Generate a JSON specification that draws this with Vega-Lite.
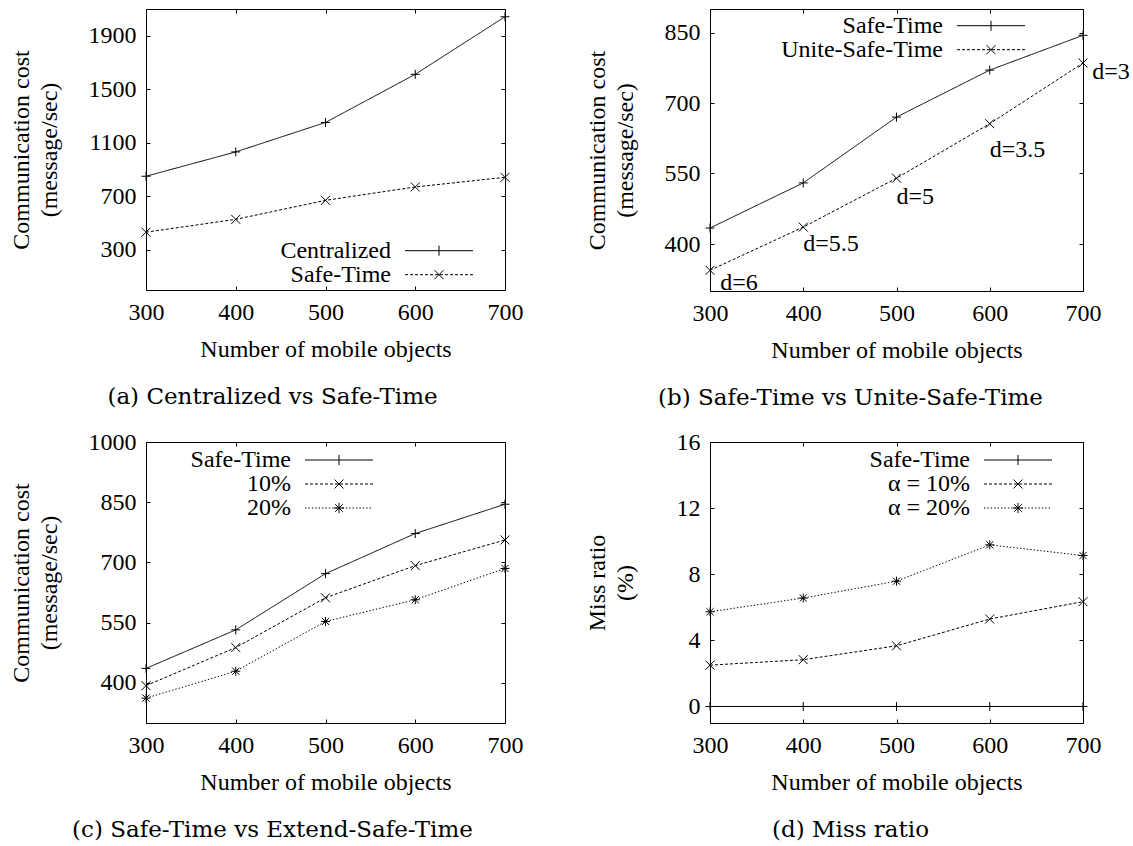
{
  "$schema": "https://vega.github.io/schema/vega-lite/v6.json",
  "background": "white",
  "padding": {"left": 8, "top": 8, "right": 0, "bottom": 0},
  "spacing": 18,
  "resolve": {"scale": {"shape": "independent", "strokeDash": "independent"}, "legend": {"shape": "independent", "strokeDash": "independent"}},
  "vconcat": [
    {
      "spacing": 60,
      "resolve": {"scale": {"shape": "independent", "strokeDash": "independent"}, "legend": {"shape": "independent", "strokeDash": "independent"}},
      "hconcat": [
        {
          "width": 359, "height": 281,
          "title": {"text": "(a) Centralized vs Safe-Time", "dx": -53},
          "data": {"values": [
            {"n": 300, "series": "Centralized", "v": 850},
            {"n": 400, "series": "Centralized", "v": 1032},
            {"n": 500, "series": "Centralized", "v": 1252},
            {"n": 600, "series": "Centralized", "v": 1612},
            {"n": 700, "series": "Centralized", "v": 2042},
            {"n": 300, "series": "Safe-Time", "v": 432},
            {"n": 400, "series": "Safe-Time", "v": 528},
            {"n": 500, "series": "Safe-Time", "v": 670},
            {"n": 600, "series": "Safe-Time", "v": 770},
            {"n": 700, "series": "Safe-Time", "v": 842}
          ]},
          "layer": [
            {"mark": {"type": "line", "color": "black", "strokeWidth": 1},
             "encoding": {
               "x": {"field": "n", "type": "quantitative", "scale": {"domain": [300, 700], "nice": false, "zero": false}, "axis": {"values": [300, 400, 500, 600, 700], "title": "Number of mobile objects", "format": "d"}},
               "y": {"field": "v", "type": "quantitative", "scale": {"domain": [0, 2100], "nice": false, "zero": false}, "axis": {"values": [300, 700, 1100, 1500, 1900], "title": ["Communication cost", "(message/sec)"], "format": "d"}},
               "strokeDash": {"field": "series", "type": "nominal", "scale": {"domain": ["Safe-Time", "Centralized"], "range": [[3, 2], [1, 0]]}, "legend": null}
             }},
            {"mark": {"type": "point", "filled": false, "color": "black", "strokeWidth": 1, "size": 81, "opacity": 1},
             "encoding": {
               "x": {"field": "n", "type": "quantitative", "axis": null},
               "y": {"field": "v", "type": "quantitative", "axis": null},
               "shape": {"field": "series", "type": "nominal", "scale": {"domain": ["Safe-Time", "Centralized"], "range": ["M-1,-1L1,1M-1,1L1,-1", "M-1,0H1M0,-1V1"]}, "legend": null}
             }},
            {"transform": [{"filter": "datum.n > 10000"}],
             "mark": {"type": "point", "filled": false, "color": "black", "strokeWidth": 1, "opacity": 1},
             "encoding": {
               "x": {"field": "n", "type": "quantitative", "axis": null},
               "y": {"field": "v", "type": "quantitative", "axis": null},
               "shape": {"field": "series", "type": "nominal", "scale": {"domain": ["Centralized", "Safe-Time"], "range": [
                 "M-3.4,0H3.4M0,-0.5V0.5",
                 "M-3.4,0H-3.1M-2.9,0H-2.6M-2.4,0H-2.1M-1.9,0H-1.6M-1.4,0H-1.1M-0.9,0H-0.6M-0.4,0H-0.1M0.1,0H0.4M0.6,0H0.9M1.1,0H1.4M1.6,0H1.9M2.1,0H2.4M2.6,0H2.9M3.1,0H3.4M-0.45,-0.45L0.45,0.45M-0.45,0.45L0.45,-0.45"]},
                 "legend": {"legendX": 259, "legendY": 229.7}}
             }},
            {"mark": {"type": "point", "opacity": 0},
             "encoding": {
               "x": {"field": "n", "type": "quantitative", "axis": {"orient": "top", "values": [300, 400, 500, 600, 700], "labels": false, "title": null}},
               "y": {"field": "v", "type": "quantitative", "axis": {"orient": "right", "values": [300, 700, 1100, 1500, 1900], "labels": false, "title": null}}
             }}
          ],
          "resolve": {"scale": {"shape": "independent"}, "legend": {"shape": "independent"}, "axis": {"x": "independent", "y": "independent"}}
        },
        {
          "width": 373, "height": 282,
          "title": {"text": "(b) Safe-Time vs Unite-Safe-Time", "dx": -46},
          "data": {"values": [
            {"n": 300, "series": "Safe-Time", "v": 434},
            {"n": 400, "series": "Safe-Time", "v": 530},
            {"n": 500, "series": "Safe-Time", "v": 670},
            {"n": 600, "series": "Safe-Time", "v": 770},
            {"n": 700, "series": "Safe-Time", "v": 844},
            {"n": 300, "series": "Unite-Safe-Time", "v": 344},
            {"n": 400, "series": "Unite-Safe-Time", "v": 436},
            {"n": 500, "series": "Unite-Safe-Time", "v": 540},
            {"n": 600, "series": "Unite-Safe-Time", "v": 656},
            {"n": 700, "series": "Unite-Safe-Time", "v": 785}
          ]},
          "layer": [
            {"mark": {"type": "line", "color": "black", "strokeWidth": 1},
             "encoding": {
               "x": {"field": "n", "type": "quantitative", "scale": {"domain": [300, 700], "nice": false, "zero": false}, "axis": {"values": [300, 400, 500, 600, 700], "title": "Number of mobile objects", "format": "d"}},
               "y": {"field": "v", "type": "quantitative", "scale": {"domain": [300, 900], "nice": false, "zero": false}, "axis": {"values": [400, 550, 700, 850], "title": ["Communication cost", "(message/sec)"], "format": "d"}},
               "strokeDash": {"field": "series", "type": "nominal", "scale": {"domain": ["Unite-Safe-Time", "Safe-Time"], "range": [[3, 2], [1, 0]]}, "legend": null}
             }},
            {"mark": {"type": "point", "filled": false, "color": "black", "strokeWidth": 1, "size": 81, "opacity": 1},
             "encoding": {
               "x": {"field": "n", "type": "quantitative", "axis": null},
               "y": {"field": "v", "type": "quantitative", "axis": null},
               "shape": {"field": "series", "type": "nominal", "scale": {"domain": ["Unite-Safe-Time", "Safe-Time"], "range": ["M-1,-1L1,1M-1,1L1,-1", "M-1,0H1M0,-1V1"]}, "legend": null}
             }},
            {"transform": [{"filter": "datum.n > 10000"}],
             "mark": {"type": "point", "filled": false, "color": "black", "strokeWidth": 1, "opacity": 1},
             "encoding": {
               "x": {"field": "n", "type": "quantitative", "axis": null},
               "y": {"field": "v", "type": "quantitative", "axis": null},
               "shape": {"field": "series", "type": "nominal", "scale": {"domain": ["Safe-Time", "Unite-Safe-Time"], "range": [
                 "M-3.4,0H3.4M0,-0.5V0.5",
                 "M-3.4,0H-3.1M-2.9,0H-2.6M-2.4,0H-2.1M-1.9,0H-1.6M-1.4,0H-1.1M-0.9,0H-0.6M-0.4,0H-0.1M0.1,0H0.4M0.6,0H0.9M1.1,0H1.4M1.6,0H1.9M2.1,0H2.4M2.6,0H2.9M3.1,0H3.4M-0.45,-0.45L0.45,0.45M-0.45,0.45L0.45,-0.45"]},
                 "legend": {"legendX": 247, "legendY": 4.7}}
             }},
            {"data": {"values": [
              {"lx": 311, "ly": 316, "label": "d=6"},
              {"lx": 400, "ly": 400, "label": "d=5.5"},
              {"lx": 500, "ly": 499, "label": "d=5"},
              {"lx": 600, "ly": 599, "label": "d=3.5"},
              {"lx": 710, "ly": 766, "label": "d=3"}
            ]},
             "mark": {"type": "text", "align": "left", "baseline": "middle", "font": "Liberation Serif", "fontSize": 24, "color": "black"},
             "encoding": {
               "x": {"field": "lx", "type": "quantitative", "axis": null},
               "y": {"field": "ly", "type": "quantitative", "axis": null},
               "text": {"field": "label", "type": "nominal"}
             }},
            {"mark": {"type": "point", "opacity": 0},
             "encoding": {
               "x": {"field": "n", "type": "quantitative", "axis": {"orient": "top", "values": [300, 400, 500, 600, 700], "labels": false, "title": null}},
               "y": {"field": "v", "type": "quantitative", "axis": {"orient": "right", "values": [400, 550, 700, 850], "labels": false, "title": null}}
             }}
          ],
          "resolve": {"scale": {"shape": "independent"}, "legend": {"shape": "independent"}, "axis": {"x": "independent", "y": "independent"}}
        }
      ]
    },
    {
      "spacing": 60,
      "resolve": {"scale": {"shape": "independent", "strokeDash": "independent"}, "legend": {"shape": "independent", "strokeDash": "independent"}},
      "hconcat": [
        {
          "width": 359, "height": 281,
          "title": {"text": "(c) Safe-Time vs Extend-Safe-Time", "dx": -53},
          "data": {"values": [
            {"n": 300, "series": "Safe-Time", "v": 436},
            {"n": 400, "series": "Safe-Time", "v": 532},
            {"n": 500, "series": "Safe-Time", "v": 672},
            {"n": 600, "series": "Safe-Time", "v": 772},
            {"n": 700, "series": "Safe-Time", "v": 845},
            {"n": 300, "series": "10%", "v": 393},
            {"n": 400, "series": "10%", "v": 488},
            {"n": 500, "series": "10%", "v": 612},
            {"n": 600, "series": "10%", "v": 692},
            {"n": 700, "series": "10%", "v": 756},
            {"n": 300, "series": "20%", "v": 362},
            {"n": 400, "series": "20%", "v": 429},
            {"n": 500, "series": "20%", "v": 553},
            {"n": 600, "series": "20%", "v": 607},
            {"n": 700, "series": "20%", "v": 685}
          ]},
          "layer": [
            {"mark": {"type": "line", "color": "black", "strokeWidth": 1},
             "encoding": {
               "x": {"field": "n", "type": "quantitative", "scale": {"domain": [300, 700], "nice": false, "zero": false}, "axis": {"values": [300, 400, 500, 600, 700], "title": "Number of mobile objects", "format": "d"}},
               "y": {"field": "v", "type": "quantitative", "scale": {"domain": [300, 1000], "nice": false, "zero": false}, "axis": {"values": [400, 550, 700, 850, 1000], "title": ["Communication cost", "(message/sec)"], "format": "d"}},
               "strokeDash": {"field": "series", "type": "nominal", "scale": {"domain": ["20%", "10%", "Safe-Time"], "range": [[1.4, 2], [3, 2], [1, 0]]}, "legend": null}
             }},
            {"mark": {"type": "point", "filled": false, "color": "black", "strokeWidth": 1, "size": 81, "opacity": 1},
             "encoding": {
               "x": {"field": "n", "type": "quantitative", "axis": null},
               "y": {"field": "v", "type": "quantitative", "axis": null},
               "shape": {"field": "series", "type": "nominal", "scale": {"domain": ["20%", "10%", "Safe-Time"], "range": ["M-1,0H1M0,-1V1M-0.8,-0.8L0.8,0.8M-0.8,0.8L0.8,-0.8", "M-1,-1L1,1M-1,1L1,-1", "M-1,0H1M0,-1V1"]}, "legend": null}
             }},
            {"transform": [{"filter": "datum.n > 10000"}],
             "mark": {"type": "point", "filled": false, "color": "black", "strokeWidth": 1, "opacity": 1},
             "encoding": {
               "x": {"field": "n", "type": "quantitative", "axis": null},
               "y": {"field": "v", "type": "quantitative", "axis": null},
               "shape": {"field": "series", "type": "nominal", "scale": {"domain": ["Safe-Time", "10%", "20%"], "range": [
                 "M-3.4,0H3.4M0,-0.5V0.5",
                 "M-3.4,0H-3.1M-2.9,0H-2.6M-2.4,0H-2.1M-1.9,0H-1.6M-1.4,0H-1.1M-0.9,0H-0.6M-0.4,0H-0.1M0.1,0H0.4M0.6,0H0.9M1.1,0H1.4M1.6,0H1.9M2.1,0H2.4M2.6,0H2.9M3.1,0H3.4M-0.45,-0.45L0.45,0.45M-0.45,0.45L0.45,-0.45",
                 "M-3.4,0H-3.26M-3.06,0H-2.92M-2.72,0H-2.58M-2.38,0H-2.24M-2.04,0H-1.9M-1.7,0H-1.56M-1.36,0H-1.22M-1.02,0H-0.88M-0.68,0H-0.54M-0.34,0H-0.2M0,0H0.14M0.34,0H0.48M0.68,0H0.82M1.02,0H1.16M1.36,0H1.5M1.7,0H1.84M2.04,0H2.18M2.38,0H2.52M2.72,0H2.86M3.06,0H3.2M-0.5,0H0.5M0,-0.5V0.5M-0.38,-0.38L0.38,0.38M-0.38,0.38L0.38,-0.38"]},
                 "legend": {"legendX": 159, "legendY": 6}}
             }},
            {"mark": {"type": "point", "opacity": 0},
             "encoding": {
               "x": {"field": "n", "type": "quantitative", "axis": {"orient": "top", "values": [300, 400, 500, 600, 700], "labels": false, "title": null}},
               "y": {"field": "v", "type": "quantitative", "axis": {"orient": "right", "values": [400, 550, 700, 850, 1000], "labels": false, "title": null}}
             }}
          ],
          "resolve": {"scale": {"shape": "independent"}, "legend": {"shape": "independent"}, "axis": {"x": "independent", "y": "independent"}}
        },
        {
          "width": 373, "height": 281,
          "title": {"text": "(d) Miss ratio", "dx": -46},
          "data": {"values": [
            {"n": 300, "series": "Safe-Time", "v": 0},
            {"n": 400, "series": "Safe-Time", "v": 0},
            {"n": 500, "series": "Safe-Time", "v": 0},
            {"n": 600, "series": "Safe-Time", "v": 0},
            {"n": 700, "series": "Safe-Time", "v": 0},
            {"n": 300, "series": "α = 10%", "v": 2.5},
            {"n": 400, "series": "α = 10%", "v": 2.83},
            {"n": 500, "series": "α = 10%", "v": 3.67},
            {"n": 600, "series": "α = 10%", "v": 5.29},
            {"n": 700, "series": "α = 10%", "v": 6.34},
            {"n": 300, "series": "α = 20%", "v": 5.73},
            {"n": 400, "series": "α = 20%", "v": 6.56},
            {"n": 500, "series": "α = 20%", "v": 7.58},
            {"n": 600, "series": "α = 20%", "v": 9.78},
            {"n": 700, "series": "α = 20%", "v": 9.13}
          ]},
          "layer": [
            {"mark": {"type": "line", "color": "black", "strokeWidth": 1},
             "encoding": {
               "x": {"field": "n", "type": "quantitative", "scale": {"domain": [300, 700], "nice": false, "zero": false}, "axis": {"values": [300, 400, 500, 600, 700], "title": "Number of mobile objects", "format": "d"}},
               "y": {"field": "v", "type": "quantitative", "scale": {"domain": [-1, 16], "nice": false, "zero": false}, "axis": {"values": [0, 4, 8, 12, 16], "title": ["Miss ratio", "(%)"], "format": "d", "titlePadding": 39}},
               "strokeDash": {"field": "series", "type": "nominal", "scale": {"domain": ["α = 20%", "α = 10%", "Safe-Time"], "range": [[1.4, 2], [3, 2], [1, 0]]}, "legend": null}
             }},
            {"mark": {"type": "point", "filled": false, "color": "black", "strokeWidth": 1, "size": 81, "opacity": 1},
             "encoding": {
               "x": {"field": "n", "type": "quantitative", "axis": null},
               "y": {"field": "v", "type": "quantitative", "axis": null},
               "shape": {"field": "series", "type": "nominal", "scale": {"domain": ["α = 20%", "α = 10%", "Safe-Time"], "range": ["M-1,0H1M0,-1V1M-0.8,-0.8L0.8,0.8M-0.8,0.8L0.8,-0.8", "M-1,-1L1,1M-1,1L1,-1", "M-1,0H1M0,-1V1"]}, "legend": null}
             }},
            {"transform": [{"filter": "datum.n > 10000"}],
             "mark": {"type": "point", "filled": false, "color": "black", "strokeWidth": 1, "opacity": 1},
             "encoding": {
               "x": {"field": "n", "type": "quantitative", "axis": null},
               "y": {"field": "v", "type": "quantitative", "axis": null},
               "shape": {"field": "series", "type": "nominal", "scale": {"domain": ["Safe-Time", "α = 10%", "α = 20%"], "range": [
                 "M-3.4,0H3.4M0,-0.5V0.5",
                 "M-3.4,0H-3.1M-2.9,0H-2.6M-2.4,0H-2.1M-1.9,0H-1.6M-1.4,0H-1.1M-0.9,0H-0.6M-0.4,0H-0.1M0.1,0H0.4M0.6,0H0.9M1.1,0H1.4M1.6,0H1.9M2.1,0H2.4M2.6,0H2.9M3.1,0H3.4M-0.45,-0.45L0.45,0.45M-0.45,0.45L0.45,-0.45",
                 "M-3.4,0H-3.26M-3.06,0H-2.92M-2.72,0H-2.58M-2.38,0H-2.24M-2.04,0H-1.9M-1.7,0H-1.56M-1.36,0H-1.22M-1.02,0H-0.88M-0.68,0H-0.54M-0.34,0H-0.2M0,0H0.14M0.34,0H0.48M0.68,0H0.82M1.02,0H1.16M1.36,0H1.5M1.7,0H1.84M2.04,0H2.18M2.38,0H2.52M2.72,0H2.86M3.06,0H3.2M-0.5,0H0.5M0,-0.5V0.5M-0.38,-0.38L0.38,0.38M-0.38,0.38L0.38,-0.38"]},
                 "legend": {"legendX": 274, "legendY": 6}}
             }},
            {"mark": {"type": "point", "opacity": 0},
             "encoding": {
               "x": {"field": "n", "type": "quantitative", "axis": {"orient": "top", "values": [300, 400, 500, 600, 700], "labels": false, "title": null}},
               "y": {"field": "v", "type": "quantitative", "axis": {"orient": "right", "values": [0, 4, 8, 12, 16], "labels": false, "title": null}}
             }}
          ],
          "resolve": {"scale": {"shape": "independent"}, "legend": {"shape": "independent"}, "axis": {"x": "independent", "y": "independent"}}
        }
      ]
    }
  ],
  "config": {
    "view": {"stroke": "black", "strokeWidth": 1},
    "font": "Liberation Serif",
    "axis": {"labelFont": "Liberation Serif", "labelFontSize": 24, "labelColor": "black", "titleFont": "Liberation Serif", "titleFontSize": 24, "titleFontWeight": "normal", "titleColor": "black", "domain": false, "grid": false, "ticks": true, "tickSize": -4, "tickColor": "black", "tickWidth": 1, "labelFlush": false, "labelOverlap": false},
    "axisX": {"labelPadding": 14, "titlePadding": 13},
    "axisY": {"labelPadding": 14, "titlePadding": 27, "titleLineHeight": 28},
    "legend": {"orient": "none", "title": null, "labelFont": "Liberation Serif", "labelFontSize": 24, "labelColor": "black", "labelAlign": "right", "labelOffset": -60, "labelLimit": 0, "symbolSize": 400, "symbolOffset": 22, "symbolStrokeWidth": 1, "symbolStrokeColor": "black", "rowPadding": 0, "padding": 0},
    "title": {"font": "DejaVu Serif", "fontSize": 23, "fontWeight": "normal", "color": "black", "orient": "bottom", "offset": 25}
  }
}
